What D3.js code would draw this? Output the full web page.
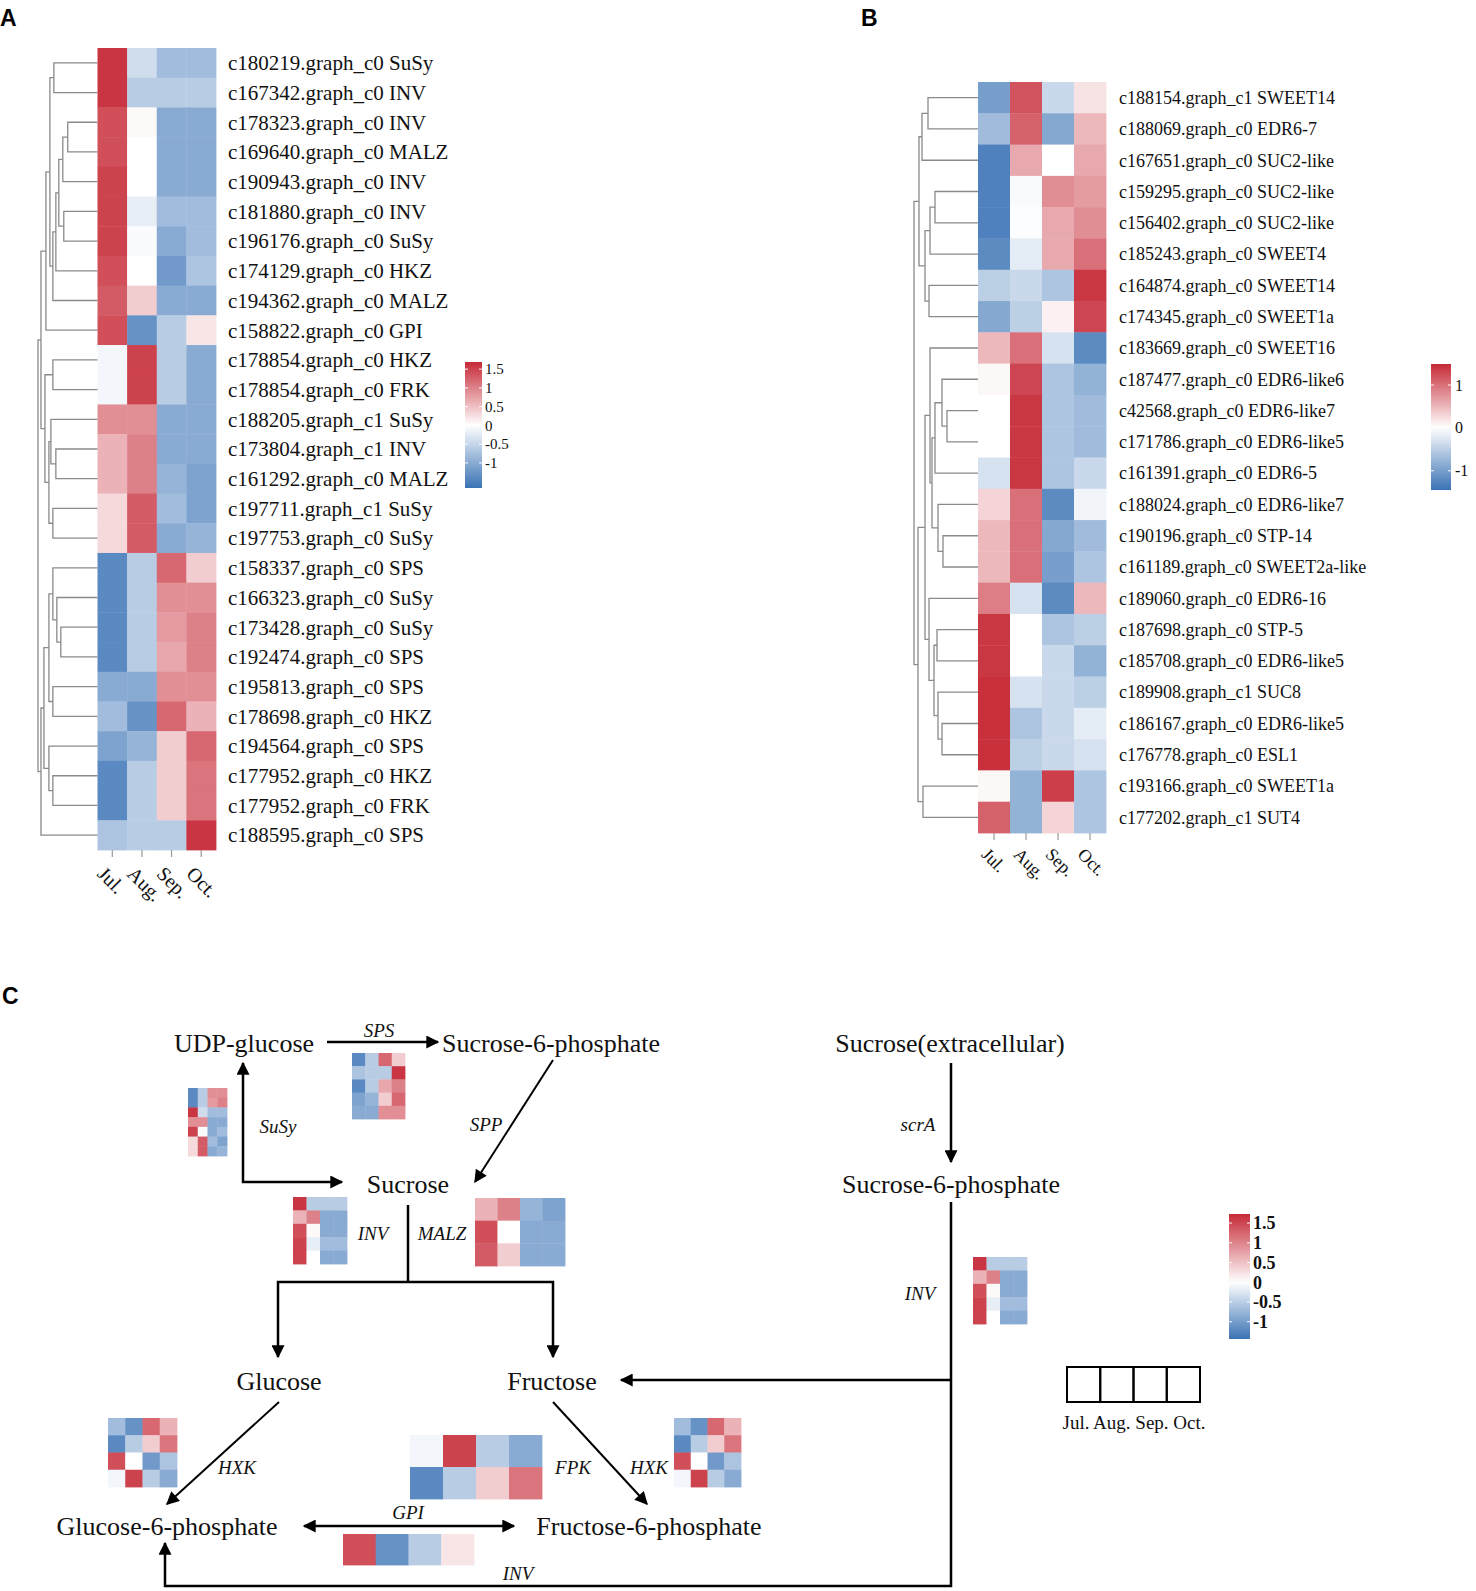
<!DOCTYPE html>
<html><head><meta charset="utf-8">
<script src="https://cdn.jsdelivr.net/npm/d3@7"></script>
<style>body{margin:0;background:#fff}svg{display:block}</style>
</head><body>
<svg id="fig" width="1476" height="1591"></svg>
<script>
// ---------------- DATA ----------------
const months = ["Jul.","Aug.","Sep.","Oct."];

const labelsA = [
 "c180219.graph_c0 SuSy","c167342.graph_c0 INV","c178323.graph_c0 INV","c169640.graph_c0 MALZ",
 "c190943.graph_c0 INV","c181880.graph_c0 INV","c196176.graph_c0 SuSy","c174129.graph_c0 HKZ",
 "c194362.graph_c0 MALZ","c158822.graph_c0 GPI","c178854.graph_c0 HKZ","c178854.graph_c0 FRK",
 "c188205.graph_c1 SuSy","c173804.graph_c1 INV","c161292.graph_c0 MALZ","c197711.graph_c1 SuSy",
 "c197753.graph_c0 SuSy","c158337.graph_c0 SPS","c166323.graph_c0 SuSy","c173428.graph_c0 SuSy",
 "c192474.graph_c0 SPS","c195813.graph_c0 SPS","c178698.graph_c0 HKZ","c194564.graph_c0 SPS",
 "c177952.graph_c0 HKZ","c177952.graph_c0 FRK","c188595.graph_c0 SPS"];
const valuesA = [
 [1.6,-0.4,-0.8,-0.8],[1.6,-0.6,-0.6,-0.6],[1.4,0.05,-1.0,-1.0],[1.4,0.0,-1.0,-1.0],
 [1.5,0.0,-1.0,-1.0],[1.5,-0.2,-0.8,-0.8],[1.5,-0.05,-1.0,-0.8],[1.4,0.0,-1.2,-0.7],
 [1.3,0.4,-1.0,-1.0],[1.4,-1.3,-0.6,0.2],[-0.1,1.5,-0.6,-1.0],[-0.1,1.5,-0.6,-1.0],
 [0.9,0.9,-1.0,-1.0],[0.6,1.0,-1.0,-1.0],[0.6,1.0,-0.9,-1.1],[0.3,1.3,-0.8,-1.1],
 [0.3,1.3,-1.0,-0.9],[-1.4,-0.6,1.2,0.4],[-1.4,-0.6,0.9,0.9],[-1.4,-0.6,0.8,1.0],
 [-1.4,-0.6,0.7,1.0],[-1.0,-1.0,0.9,0.9],[-0.8,-1.3,1.2,0.6],[-1.1,-0.9,0.4,1.2],
 [-1.4,-0.6,0.4,1.1],[-1.4,-0.6,0.4,1.1],[-0.7,-0.6,-0.6,1.6]];
// dendrogram: [height, left, right]; leaves = row index
const treeA = [60,
  [57,
    [52,[48,[44,0,1],[45,[42,[39,[35,[30,2,3],4],[34,5,6]],7],8]],9],
    [53,[45,10,11],[49,[47,12,[42,13,14]],[45,15,16]]]],
  [57,[54,[49,[45,17,[41,18,[37,19,20]]],[45,21,22]],[49,23,[45,24,25]]],26]];

const labelsB = [
 "c188154.graph_c1 SWEET14","c188069.graph_c0 EDR6-7","c167651.graph_c0 SUC2-like","c159295.graph_c0 SUC2-like",
 "c156402.graph_c0 SUC2-like","c185243.graph_c0 SWEET4","c164874.graph_c0 SWEET14","c174345.graph_c0 SWEET1a",
 "c183669.graph_c0 SWEET16","c187477.graph_c0 EDR6-like6","c42568.graph_c0 EDR6-like7","c171786.graph_c0 EDR6-like5",
 "c161391.graph_c0 EDR6-5","c188024.graph_c0 EDR6-like7","c190196.graph_c0 STP-14","c161189.graph_c0 SWEET2a-like",
 "c189060.graph_c0 EDR6-16","c187698.graph_c0 STP-5","c185708.graph_c0 EDR6-like5","c189908.graph_c1 SUC8",
 "c186167.graph_c0 EDR6-like5","c176778.graph_c0 ESL1","c193166.graph_c0 SWEET1a","c177202.graph_c1 SUT4"];
const valuesB = [
 [-1.0,1.2,-0.4,0.2],[-0.7,1.1,-0.9,0.5],[-1.3,0.6,0.0,0.6],[-1.3,-0.05,0.8,0.7],
 [-1.3,-0.02,0.6,0.8],[-1.2,-0.2,0.6,1.0],[-0.5,-0.4,-0.6,1.4],[-0.9,-0.5,0.1,1.3],
 [0.5,1.0,-0.3,-1.2],[0.05,1.3,-0.6,-0.8],[0.0,1.4,-0.6,-0.7],[0.0,1.4,-0.6,-0.7],
 [-0.3,1.4,-0.6,-0.4],[0.3,1.0,-1.2,-0.1],[0.5,1.0,-0.9,-0.7],[0.5,1.0,-1.0,-0.6],
 [0.9,-0.3,-1.2,0.5],[1.4,0.0,-0.6,-0.5],[1.4,0.0,-0.4,-0.8],[1.45,-0.3,-0.4,-0.5],
 [1.45,-0.6,-0.4,-0.2],[1.45,-0.5,-0.4,-0.3],[0.05,-0.8,1.35,-0.6],[1.1,-0.8,0.3,-0.6]];
const treeB = [64,
  [59,[56,[50,0,1],2],[53,[48,[43,3,4],5],[49,6,7]]],
  [60,
    [53,
      [48,8,[46,[43,[36,9,[31,10,11]],12],[40,13,[35,14,15]]]],
      [49,16,[44,[41,17,18],[40,19,[36,20,21]]]]],
    [55,22,23]]];

const ticksA = [1.5,1,0.5,0,-0.5,-1];
const ticksB = [1,0,-1];
const ticksC = [1.5,1,0.5,0,-0.5,-1];

// panel C mini heatmaps: genes taken from panel A
const miniSuSy = ["c166323.graph_c0 SuSy","c173428.graph_c0 SuSy","c180219.graph_c0 SuSy","c188205.graph_c1 SuSy","c196176.graph_c0 SuSy","c197711.graph_c1 SuSy","c197753.graph_c0 SuSy"];
const miniSPS = ["c158337.graph_c0 SPS","c188595.graph_c0 SPS","c192474.graph_c0 SPS","c194564.graph_c0 SPS","c195813.graph_c0 SPS"];
const miniINV = ["c167342.graph_c0 INV","c173804.graph_c1 INV","c178323.graph_c0 INV","c181880.graph_c0 INV","c190943.graph_c0 INV"];
const miniMALZ = ["c161292.graph_c0 MALZ","c169640.graph_c0 MALZ","c194362.graph_c0 MALZ"];
const miniHXK = ["c178698.graph_c0 HKZ","c177952.graph_c0 HKZ","c174129.graph_c0 HKZ","c178854.graph_c0 HKZ"];
const miniFRK = ["c178854.graph_c0 FRK","c177952.graph_c0 FRK"];
const miniGPI = ["c158822.graph_c0 GPI"];

// ---------------- DRAWING ----------------
const svg = d3.select("#fig");
const serif = '"Liberation Serif","Times New Roman",serif';
const sans = '"Liberation Sans",Arial,sans-serif';
const BLUE = "#3a73b5", RED = "#c62a37";
const colA = d3.scaleLinear().domain([-1.67,0,1.69]).range([BLUE,"#ffffff",RED]).clamp(true);
const colB = d3.scaleLinear().domain([-1.45,0,1.49]).range([BLUE,"#ffffff",RED]).clamp(true);
const colC = d3.scaleLinear().domain([-1.44,0,1.73]).range([BLUE,"#ffffff",RED]).clamp(true);
const defs = svg.append("defs");

function heatmap(g, values, xs, ys, col) {
  values.forEach((row, i) => {
    g.selectAll(null).data(row).join("rect")
      .attr("x", (d, j) => xs(months[j])).attr("y", ys(i))
      .attr("width", xs.bandwidth() + 0.4).attr("height", ys.bandwidth() + 0.4)
      .attr("fill", d => col(d));
  });
}
function dendro(g, tree, ys, hs) {
  function walk(node) {
    if (typeof node === "number") return {x: hs(0), y: ys(node) + ys.bandwidth() / 2};
    const [h, a, b] = node;
    const A = walk(a), B = walk(b), x = hs(h);
    g.append("path").attr("d", `M${A.x},${A.y}H${x}V${B.y}H${B.x}`)
      .attr("fill", "none").attr("stroke", "#8a8a8a").attr("stroke-width", 1.3);
    return {x, y: (A.y + B.y) / 2};
  }
  walk(tree);
}
function colorbar(id, col, o) {
  const [lo, hi] = [col.domain()[0], col.domain()[2]];
  const grad = defs.append("linearGradient").attr("id", id)
    .attr("x1", 0).attr("y1", 1).attr("x2", 0).attr("y2", 0);
  d3.range(0, 1.0001, 0.05).forEach(t => grad.append("stop")
    .attr("offset", t).attr("stop-color", col(lo + t * (hi - lo))));
  const ys = d3.scaleLinear().domain([lo, hi]).range([o.y1, o.y0]);
  svg.append("rect").attr("x", o.x).attr("y", o.y0).attr("width", o.w).attr("height", o.y1 - o.y0)
    .attr("fill", `url(#${id})`);
  o.ticks.forEach(t => {
    svg.append("line").attr("x1", o.x).attr("x2", o.x + 3).attr("y1", ys(t)).attr("y2", ys(t))
      .attr("stroke", "#fff").attr("stroke-width", 1.2).attr("opacity", 0.8);
    svg.append("line").attr("x1", o.x + o.w - 3).attr("x2", o.x + o.w).attr("y1", ys(t)).attr("y2", ys(t))
      .attr("stroke", "#fff").attr("stroke-width", 1.2).attr("opacity", 0.8);
    svg.append("text").attr("x", o.lx).attr("y", ys(t)).attr("dy", "0.35em")
      .attr("font-family", serif).attr("font-size", o.fs).attr("font-weight", o.bold ? "bold" : "normal")
      .attr("fill", "#111").text(t);
  });
}
function rowLabels(labels, ys, x, fs) {
  svg.append("g").selectAll("text").data(labels).join("text")
    .attr("x", x).attr("y", (d, i) => ys(i) + ys.bandwidth() / 2).attr("dy", "0.35em")
    .attr("font-family", serif).attr("font-size", fs).attr("fill", "#111").text(d => d);
}
function colLabels(xs, yTick0, yTick1, yLab, off, fs) {
  months.forEach(m => {
    const cx = xs(m) + xs.bandwidth() / 2;
    svg.append("line").attr("x1", cx).attr("x2", cx).attr("y1", yTick0).attr("y2", yTick1)
      .attr("stroke", "#999").attr("stroke-width", 1.2);
    svg.append("text").attr("transform", `translate(${cx - off},${yLab}) rotate(45)`)
      .attr("dy", "0.35em").attr("font-family", serif).attr("font-size", fs).attr("fill", "#111").text(m);
  });
}
function panelLetter(t, x, y) {
  svg.append("text").attr("x", x).attr("y", y).attr("font-family", sans).attr("font-weight", "bold")
    .attr("font-size", 23).attr("fill", "#000").text(t);
}

// ---- Panel A ----
const xA = d3.scaleBand().domain(months).range([97.5, 216]);
const yA = d3.scaleBand().domain(d3.range(labelsA.length)).range([48, 850]);
heatmap(svg.append("g"), valuesA, xA, yA, colA);
dendro(svg.append("g"), treeA, yA, d3.scaleLinear().domain([0, 60]).range([97.5, 38]));
rowLabels(labelsA, yA, 228, 21);
colLabels(xA, 850, 857, 870, 11, 20);
colorbar("gA", colA, {x: 465, w: 17, y0: 362, y1: 488, ticks: ticksA, lx: 485, fs: 15});
panelLetter("A", 0, 26);

// ---- Panel B ----
const xB = d3.scaleBand().domain(months).range([978, 1106]);
const yB = d3.scaleBand().domain(d3.range(labelsB.length)).range([82, 833]);
heatmap(svg.append("g"), valuesB, xB, yB, colB);
dendro(svg.append("g"), treeB, yB, d3.scaleLinear().domain([0, 64]).range([978, 914]));
rowLabels(labelsB, yB, 1119, 18);
colLabels(xB, 833, 840, 851, 9, 18);
colorbar("gB", colB, {x: 1431, w: 20, y0: 364, y1: 490, ticks: ticksB, lx: 1455, fs: 16});
panelLetter("B", 861, 26);

// ---- Panel C ----
panelLetter("C", 2, 1004);
const idxA = new Map(labelsA.map((l, i) => [l, i]));
const minis = [
  {genes: miniSuSy, box: [188, 1088, 227, 1156]},
  {genes: miniSPS, box: [352, 1053, 405, 1119]},
  {genes: miniINV, box: [293, 1197, 347, 1264]},
  {genes: miniMALZ, box: [475, 1198, 565, 1266]},
  {genes: miniINV, box: [973, 1257, 1027, 1324]},
  {genes: miniHXK, box: [108, 1418, 177, 1487]},
  {genes: miniFRK, box: [410, 1435, 542, 1499]},
  {genes: miniHXK, box: [674, 1418, 741, 1487]},
  {genes: miniGPI, box: [343, 1534, 474, 1565]}
];
minis.forEach(m => {
  const xs = d3.scaleBand().domain(months).range([m.box[0], m.box[2]]);
  const ys = d3.scaleBand().domain(d3.range(m.genes.length)).range([m.box[1], m.box[3]]);
  heatmap(svg.append("g"), m.genes.map(g => valuesA[idxA.get(g)]), xs, ys, colA);
});

const nodes = [
  {t: "UDP-glucose", x: 244, y: 1043},
  {t: "Sucrose-6-phosphate", x: 551, y: 1043},
  {t: "Sucrose(extracellular)", x: 950, y: 1043},
  {t: "Sucrose", x: 408, y: 1184},
  {t: "Sucrose-6-phosphate", x: 951, y: 1184},
  {t: "Glucose", x: 279, y: 1381},
  {t: "Fructose", x: 552, y: 1381},
  {t: "Glucose-6-phosphate", x: 167, y: 1526},
  {t: "Fructose-6-phosphate", x: 649, y: 1526}
];
svg.append("g").selectAll("text").data(nodes).join("text")
  .attr("x", d => d.x).attr("y", d => d.y).attr("dy", "0.35em").attr("text-anchor", "middle")
  .attr("font-family", serif).attr("font-size", 26).attr("fill", "#111").text(d => d.t);

const enz = [
  {t: "SPS", x: 379, y: 1030}, {t: "SuSy", x: 278, y: 1126}, {t: "SPP", x: 486, y: 1124},
  {t: "INV", x: 373, y: 1233}, {t: "MALZ", x: 442, y: 1233}, {t: "scrA", x: 918, y: 1124},
  {t: "INV", x: 920, y: 1293}, {t: "HXK", x: 237, y: 1467}, {t: "FPK", x: 573, y: 1467},
  {t: "HXK", x: 649, y: 1467}, {t: "GPI", x: 408, y: 1512}, {t: "INV", x: 518, y: 1573}
];
svg.append("g").selectAll("text").data(enz).join("text")
  .attr("x", d => d.x).attr("y", d => d.y).attr("dy", "0.35em").attr("text-anchor", "middle")
  .attr("font-family", serif).attr("font-style", "italic").attr("font-size", 19).attr("fill", "#111").text(d => d.t);

defs.append("marker").attr("id", "ah").attr("viewBox", "0 0 10 10").attr("refX", 9).attr("refY", 5)
  .attr("markerUnits", "userSpaceOnUse").attr("markerWidth", 15).attr("markerHeight", 13)
  .attr("orient", "auto-start-reverse").append("path").attr("d", "M0,0L10,5L0,10z").attr("fill", "#000");

const arrows = [
  {d: "M327,1042H438", e: 1},
  {d: "M243,1063V1182H342", s: 1, e: 1},
  {d: "M553,1060L475,1182", e: 1, w: 2},
  {d: "M408,1205V1282"},
  {d: "M278,1357V1282H553V1357", s: 1, e: 1},
  {d: "M951,1063V1162", e: 1},
  {d: "M951,1202V1586H165V1543", e: 1},
  {d: "M951,1380H621", e: 1},
  {d: "M279,1402L167,1504", e: 1, w: 2},
  {d: "M553,1402L647,1504", e: 1, w: 2},
  {d: "M304,1526H514", s: 1, e: 1}
];
svg.append("g").selectAll("path").data(arrows).join("path")
  .attr("d", d => d.d).attr("fill", "none").attr("stroke", "#000").attr("stroke-width", d => d.w || 2.5)
  .attr("marker-start", d => d.s ? "url(#ah)" : null).attr("marker-end", d => d.e ? "url(#ah)" : null);

colorbar("gC", colC, {x: 1229, w: 21, y0: 1214, y1: 1339, ticks: ticksC, lx: 1253, fs: 18, bold: true});

// month legend
const xL = d3.scaleBand().domain(months).range([1067, 1200]);
svg.append("g").selectAll("rect").data(months).join("rect")
  .attr("x", d => xL(d)).attr("y", 1367).attr("width", xL.bandwidth()).attr("height", 35)
  .attr("fill", "none").attr("stroke", "#000").attr("stroke-width", 2);
svg.append("text").attr("x", 1134).attr("y", 1422).attr("dy", "0.35em").attr("text-anchor", "middle")
  .attr("font-family", serif).attr("font-size", 19).attr("fill", "#111").text(months.join(" "));
</script>
</body></html>
